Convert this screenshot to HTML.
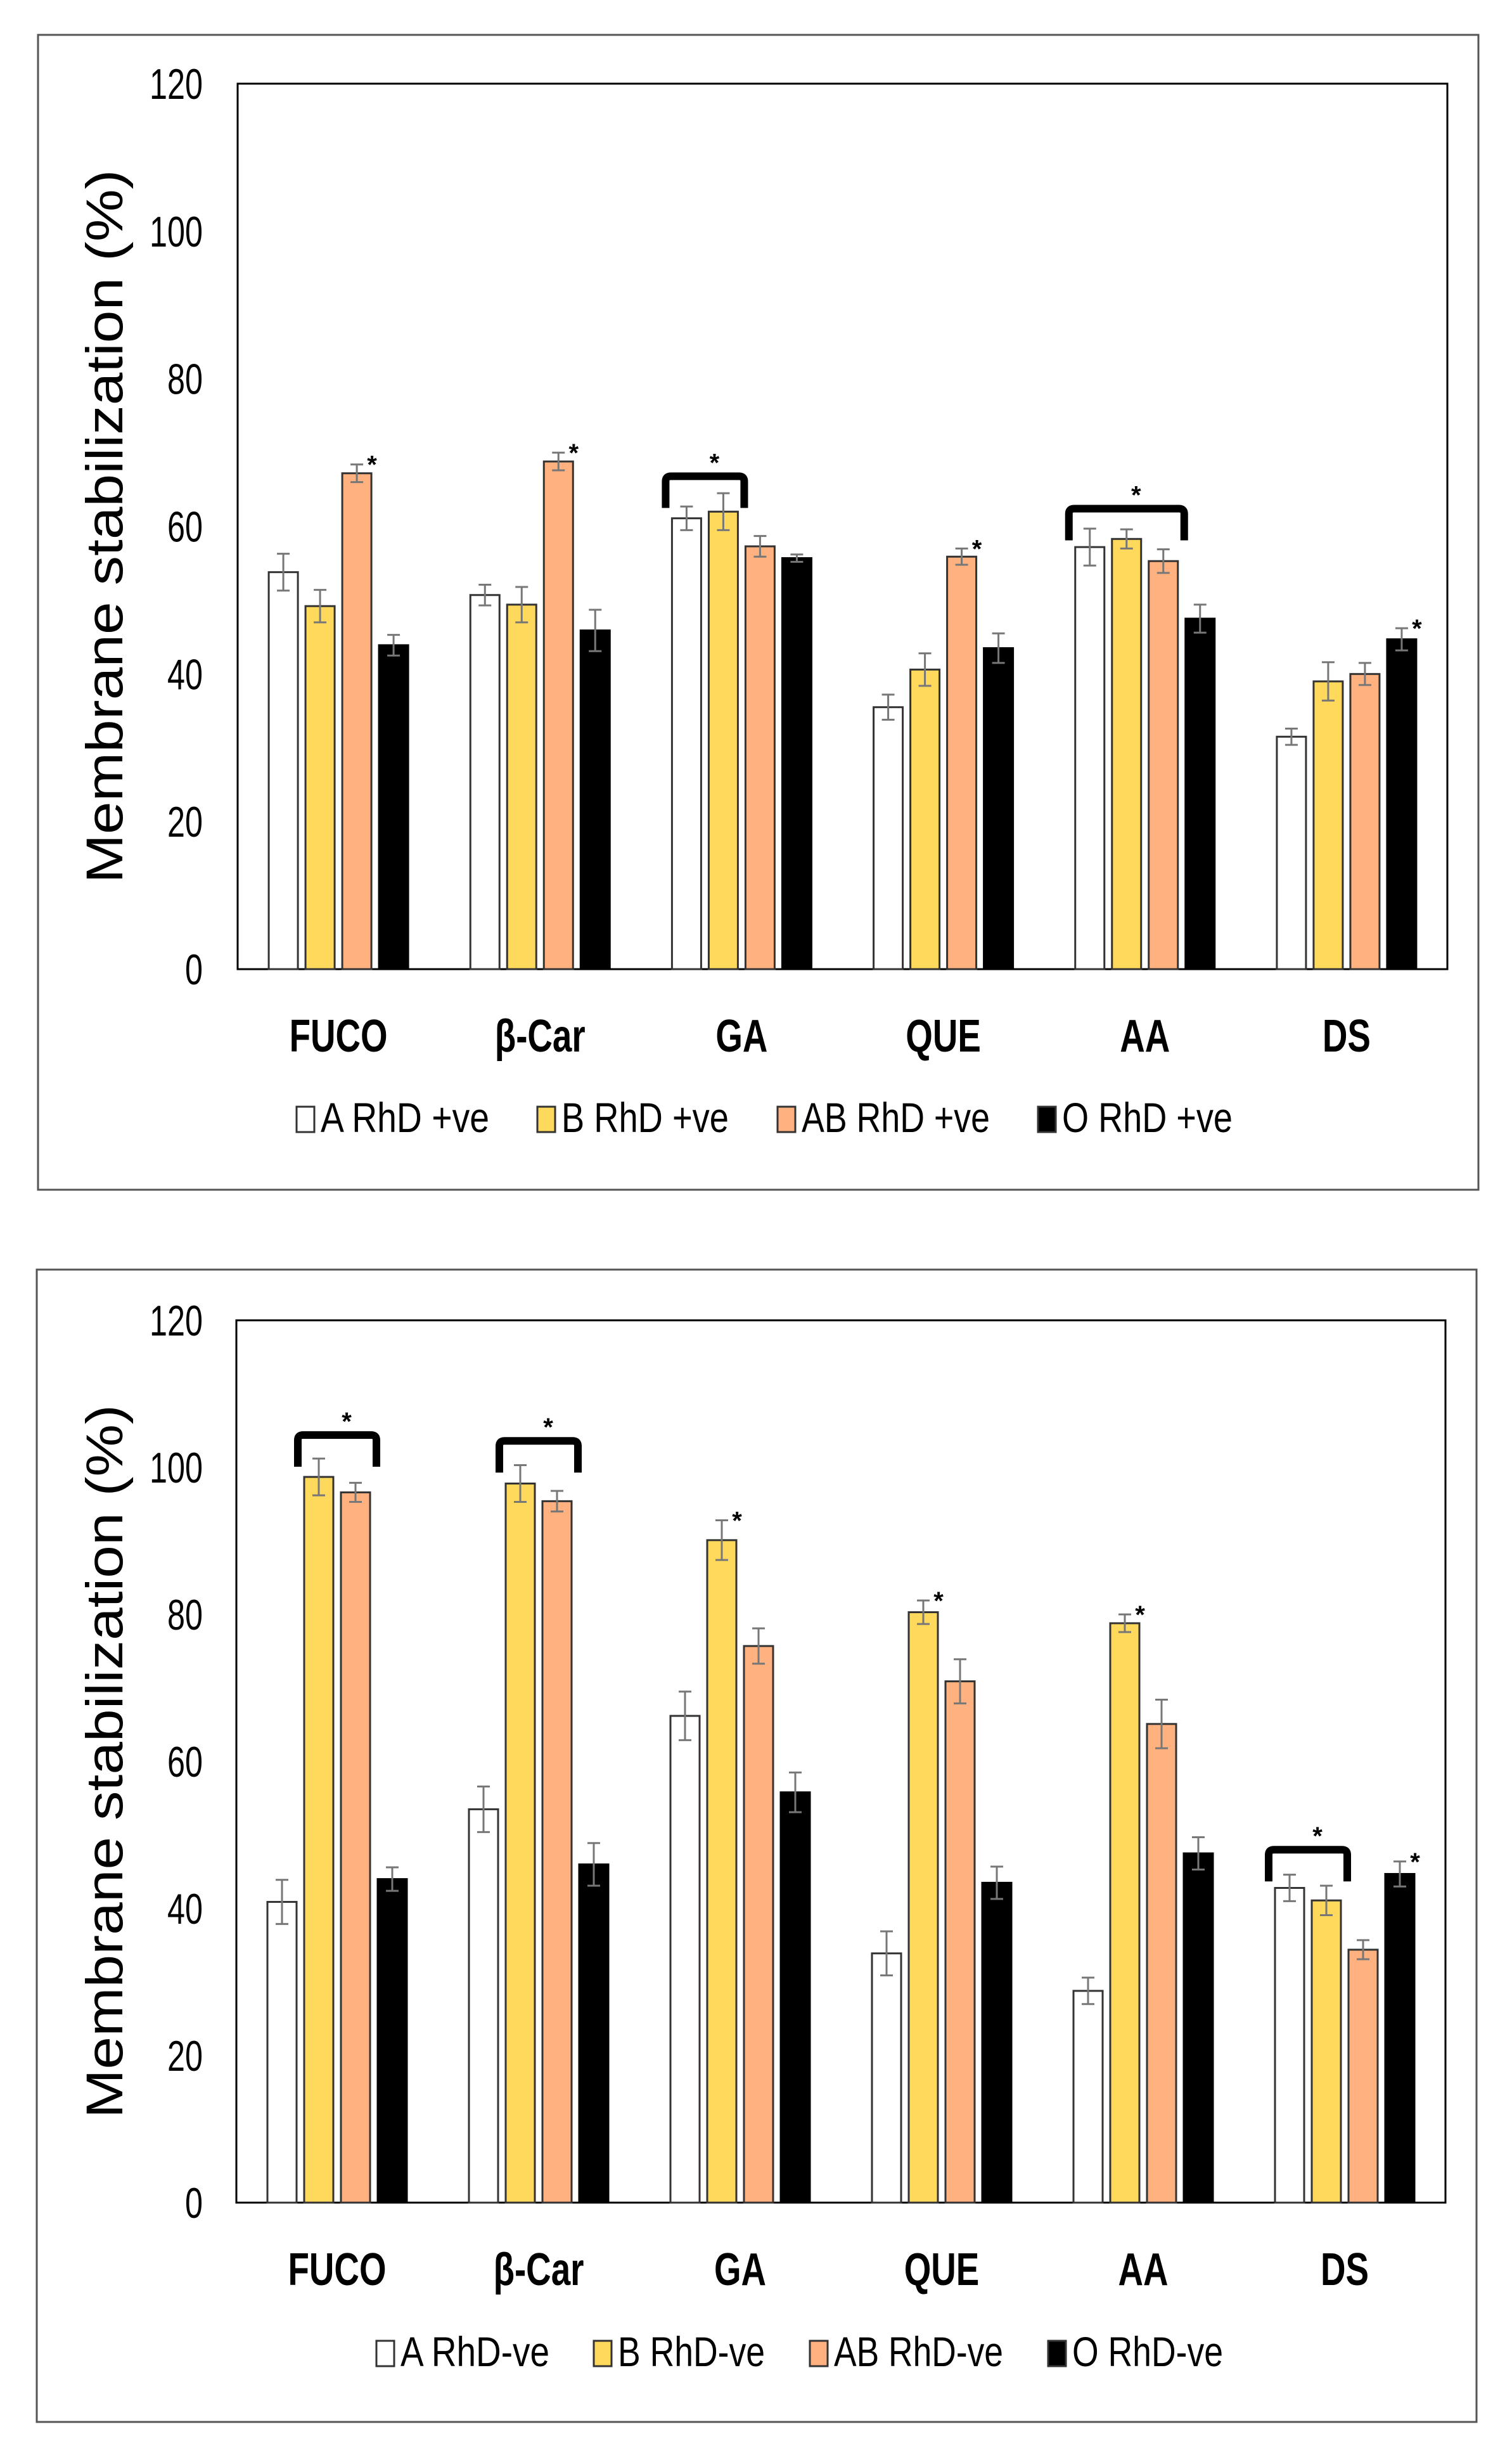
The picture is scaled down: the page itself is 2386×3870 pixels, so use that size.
<!DOCTYPE html>
<html><head><meta charset="utf-8"><style>
html,body{margin:0;padding:0;background:#fff;}
svg{display:block;}
text{font-family:"Liberation Sans",sans-serif;}
</style></head><body>
<svg id="fig" width="2386" height="3870" viewBox="0 0 2386 3870" xmlns="http://www.w3.org/2000/svg"></svg>
<script>
const categories = ["FUCO","β-Car","GA","QUE","AA","DS"];
const yTicks = [0,20,40,60,80,100,120];
const seriesTop = ["A RhD +ve","B RhD +ve","AB RhD +ve","O RhD +ve"];
const seriesBot = ["A RhD-ve","B RhD-ve","AB RhD-ve","O RhD-ve"];
const topA = [53.8,50.7,61.1,35.5,57.2,31.5];
const topB = [49.2,49.4,62.0,40.6,58.3,39.0];
const topAB = [67.2,68.8,57.3,55.9,55.3,40.0];
const topO = [43.9,45.9,55.7,43.5,47.5,44.7];
const topAErr = [2.5,1.4,1.6,1.7,2.5,1.1];
const topBErr = [2.2,2.4,2.5,2.2,1.3,2.6];
const topABErr = [1.2,1.2,1.4,1.1,1.6,1.5];
const topOErr = [1.4,2.8,0.5,2.0,1.9,1.5];
const botA = [40.9,53.5,66.2,33.9,28.8,42.8];
const botB = [98.7,97.8,90.1,80.3,78.8,41.1];
const botAB = [96.6,95.4,75.7,70.9,65.1,34.4];
const botO = [44.0,46.0,55.8,43.5,47.5,44.7];
const botAErr = [3.0,3.1,3.3,3.0,1.8,1.8];
const botBErr = [2.5,2.5,2.7,1.6,1.2,2.0];
const botABErr = [1.3,1.4,2.4,3.0,3.3,1.3];
const botOErr = [1.6,2.9,2.7,2.2,2.2,1.7];
// significance stars: [category index, series index]
const topStars = [[0,2],[1,2],[3,2],[5,3]];
const botStars = [[2,1],[3,1],[4,1],[5,3]];
// brackets: [category index, first series, last series, value]
const topBrackets = [[2,0,1,66.8],[4,0,2,62.4]];
const botBrackets = [[0,1,2,104.4],[1,1,2,103.6],[5,0,1,48.0]];

const NS="http://www.w3.org/2000/svg";
const svg=document.getElementById('fig');
const colors=["#ffffff","#FFD95C","#FFB17F","#000000"];
function el(tag,attrs,parent){const e=document.createElementNS(NS,tag);for(const k in attrs)e.setAttribute(k,attrs[k]);(parent||svg).appendChild(e);return e;}

function drawChart(cfg){
  const g=el('g',{});
  
  
  const box=el('rect',{x:cfg.box[0],y:cfg.box[1],width:cfg.box[2],height:cfg.box[3],fill:'none',stroke:'#555',"stroke-width":3},g);
  
  
  const L=cfg.plot[0],T=cfg.plot[1],R=cfg.plot[2],B=cfg.plot[3];
  const yS=v=>B-(v/120)*(B-T);
  const gw=(R-L)/categories.length;
  const bw=46,pitch=58;
  const xBar=(c,s)=>L+gw*(c+0.5)-110+s*pitch;
  const pa=el('rect',{x:L,y:T,width:R-L,height:B-T,fill:'none',stroke:'#000',"stroke-width":3},g);
  
  
  yTicks.forEach(t=>{
    const tx=el('text',{x:320,y:yS(t)+24,"text-anchor":"end","font-size":68,fill:'#000',transform:`translate(320 0) scale(0.74 1) translate(-320 0)`},g);
    tx.textContent=t;
    
    
  });
  const cy=(T+B)/2;
  const yt=el('text',{x:0,y:0,"text-anchor":"middle","font-size":82,fill:'#000',textLength:1126,lengthAdjust:'spacingAndGlyphs',transform:`translate(193 ${cy}) rotate(-90)`},g);
  yt.textContent="Membrane stabilization (%)";
  
  
  categories.forEach((c,i)=>{
    const cx=L+gw*(i+0.5);
    const t=el('text',{x:cx,y:B+130,"text-anchor":"middle","font-size":72,"font-weight":"bold",fill:'#000',transform:`translate(${cx} 0) scale(0.76 1) translate(${-cx} 0)`},g);
    t.textContent=c;
    
    
  });
  cfg.vals.forEach((arr,s)=>{
    arr.forEach((v,c)=>{
      const x=xBar(c,s);
      const r=el('rect',{x:x,y:yS(v),width:bw,height:B-yS(v),fill:colors[s],stroke:s==3?'#000':'#333',"stroke-width":3},g);
      
      
      const e=cfg.errs[s][c];
      const xm=x+bw/2;
      const eb=el('path',{d:`M${xm} ${yS(v+e)}V${yS(v-e)}M${xm-10} ${yS(v+e)}H${xm+10}M${xm-10} ${yS(v-e)}H${xm+10}`,stroke:'#777',"stroke-width":3,fill:'none'},g);
      
      
    });
  });
  cfg.stars.forEach(([c,s])=>{
    const v=cfg.vals[s][c]+cfg.errs[s][c];
    const st=el('text',{x:xBar(c,s)+bw/2+24,y:yS(v)+14,"text-anchor":"middle","font-size":40,"font-weight":"bold",fill:'#000'},g);
    st.textContent="*";
    
    
  });
  cfg.brackets.forEach(([c,s0,s1,v])=>{
    const x0=xBar(c,s0)-10,x1=xBar(c,s1)+bw+10;
    const yt=yS(v),yb=yt+50;
    const p=el('path',{d:`M${x0} ${yb}V${yt+8}Q${x0} ${yt} ${x0+8} ${yt}H${x1-8}Q${x1} ${yt} ${x1} ${yt+8}V${yb}`,stroke:'#000',"stroke-width":12,fill:'none'},g);
    
    
    const st=el('text',{x:(x0+x1)/2+15,y:yt-8,"text-anchor":"middle","font-size":40,"font-weight":"bold",fill:'#000'},g);
    st.textContent="*";
    
    
  });
  cfg.legend.forEach((name,i)=>{
    const bx=cfg.legX[i];
    const lb=el('rect',{x:bx,y:cfg.legY-34,width:28,height:40,fill:colors[i],stroke:'#333',"stroke-width":3},g);
    
    
    const lt=el('text',{x:bx+38,y:cfg.legY+6,"font-size":66,fill:'#000',textLength:cfg.legEnd[i]-bx-38,lengthAdjust:'spacingAndGlyphs'},g);
    lt.textContent=name;
    
    
  });
}
drawChart({name:'chart-rhd-positive',box:[60,55,2273,1822],plot:[375,132,2284,1529],
  vals:[topA,topB,topAB,topO],errs:[topAErr,topBErr,topABErr,topOErr],stars:topStars,brackets:topBrackets,
  legend:seriesTop,legX:[468,848,1227,1638],legEnd:[772,1150,1562,1945],legY:1780});
drawChart({name:'chart-rhd-negative',box:[58,2003,2272,1818],plot:[373,2083,2281,3475],
  vals:[botA,botB,botAB,botO],errs:[botAErr,botBErr,botABErr,botOErr],stars:botStars,brackets:botBrackets,
  legend:seriesBot,legX:[594,937,1278,1654],legEnd:[867,1207,1583,1930],legY:3727});
</script>
</body></html>
